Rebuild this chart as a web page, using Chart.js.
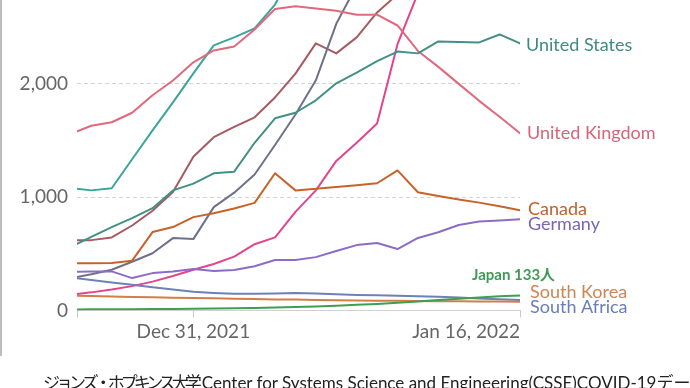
<!DOCTYPE html>
<html>
<head>
<meta charset="utf-8">
<script src="https://cdn.jsdelivr.net/npm/chart.js@4.4.1/dist/chart.umd.min.js"></script>
<style>
  html, body { margin: 0; padding: 0; background: #fff; }
  #wrap { position: relative; width: 690px; height: 388px; overflow: hidden; }
  #chart { position: absolute; left: 0; top: 0; }
  #edge { position: absolute; left: 0; top: 0; width: 2px; height: 356px; background: #bdbdbd; }
  #source {
    position: absolute; left: 43px; top: 373px; line-height: 20px;
    font-family: Lato, "Noto Sans CJK JP", sans-serif; font-size: 17px;
    color: #222; white-space: nowrap;
  }
  #source .ja { letter-spacing: -4px; margin-right: 4px; }
</style>
</head>
<body>
<div id="wrap">
  <canvas id="chart" width="690" height="388"></canvas>
  <div id="edge"></div>
  <div id="source"><span class="ja">ジョンズ・ホプキンス大学</span>Center for Systems Science and Engineering(CSSE)COVID-19データ</div>
</div>
<script>
(function () {
  "use strict";

  // daily new cases per million, 7-day average
  const dates = [
    "2021-12-25", "2021-12-26", "2021-12-27", "2021-12-28", "2021-12-29", "2021-12-30", "2021-12-31",
    "2022-01-01", "2022-01-02", "2022-01-03", "2022-01-04", "2022-01-05", "2022-01-06", "2022-01-07",
    "2022-01-08", "2022-01-09", "2022-01-10", "2022-01-11", "2022-01-12", "2022-01-13", "2022-01-14",
    "2022-01-15", "2022-01-16"
  ];
  const unitedStates = [560, 650, 736, 815, 903, 1060, 1120, 1211, 1225, 1480, 1696, 1745, 1855, 2005, 2100, 2200, 2285, 2269, 2374, 2370, 2366, 2436, 2357];
  const unitedKingdom = [1560, 1630, 1661, 1745, 1900, 2030, 2190, 2295, 2330, 2480, 2660, 2685, 2665, 2645, 2610, 2610, 2515, 2290, 2150, 2000, 1850, 1710, 1564];
  const france = [1080, 1060, 1079, 1335, 1590, 1837, 2092, 2339, 2410, 2489, 2700, 3050, 3300, 3550, 3800, 4050, 4300, 4450, 4600, 4700, 4800, 4850, 4900];
  const italy = [620, 621, 645, 750, 880, 1045, 1356, 1529, 1620, 1705, 1880, 2090, 2357, 2269, 2410, 2630, 2790, 2950, 3100, 3200, 3300, 3350, 3400];
  const australia = [285, 320, 360, 430, 505, 639, 630, 912, 1040, 1200, 1460, 1730, 2031, 2530, 2870, 3150, 3400, 3550, 3650, 3700, 3700, 3650, 3600];
  const israel = [140, 160, 185, 215, 255, 305, 360, 410, 475, 585, 645, 870, 1060, 1320, 1480, 1650, 2350, 2800, 3100, 3400, 3700, 3900, 4100];
  const canada = [415, 418, 420, 440, 692, 736, 824, 859, 900, 950, 1211, 1060, 1075, 1090, 1105, 1123, 1236, 1044, 1010, 980, 952, 920, 885];
  const germany = [340, 345, 345, 286, 330, 345, 366, 348, 357, 390, 445, 445, 471, 525, 577, 595, 542, 640, 690, 755, 785, 795, 806];
  const southAfrica = [290, 270, 248, 228, 205, 185, 165, 155, 148, 147, 150, 155, 150, 143, 137, 134, 130, 126, 121, 115, 106, 99, 93];
  const southKorea = [130, 127, 123, 120, 117, 113, 110, 107, 104, 101, 98, 96, 93, 91, 89, 87, 85, 83, 82, 81, 80, 79, 78];
  const japan = [9, 10, 11, 12, 13, 14, 16, 18, 20, 23, 27, 31, 36, 42, 50, 58, 68, 80, 92, 104, 115, 125, 133];

  const xTickDates = ["2021-12-31", "2022-01-16"];
  const yTicks = [0, 1000, 2000];
  const yMax = 2740;
  const xStart = 0.3; // visible window starts a bit after the first day

  const MONTHS = ["Jan", "Feb", "Mar", "Apr", "May", "Jun", "Jul", "Aug", "Sep", "Oct", "Nov", "Dec"];
  const FONT = "Lato, 'Noto Sans CJK JP', sans-serif";

  function fmtDate(s) {
    const p = s.split("-");
    return MONTHS[+p[1] - 1] + " " + (+p[2]) + ", " + p[0];
  }

  function points(vals) {
    return vals.map(function (v, i) {
      return { x: i, y: v };
    });
  }

  function noPad(s) {
    s.paddingTop = 0;
    s.paddingBottom = 0;
    s.paddingLeft = 0;
    s.paddingRight = 0;
  }

  const series = [
    { name: "Japan", data: japan, color: "#3e9e52" },
    { name: "South Korea", data: southKorea, color: "#d27e45" },
    { name: "South Africa", data: southAfrica, color: "#6d80b8" },
    { name: "Germany", data: germany, color: "#8c6cc4" },
    { name: "Canada", data: canada, color: "#c8622a" },
    { name: "United States", data: unitedStates, color: "#439084" },
    { name: "United Kingdom", data: unitedKingdom, color: "#e0697c" },
    { name: "Israel", data: israel, color: "#e2458d" },
    { name: "Australia", data: australia, color: "#6e7189" },
    { name: "Italy", data: italy, color: "#a65a63" },
    { name: "France", data: france, color: "#3aa59b" }
  ];

  // end-of-line labels
  const endLabels = {
    "United States": { text: "United States", color: "#3d8b83", dx: 6, dy: 2 },
    "United Kingdom": { text: "United Kingdom", color: "#d96479", dx: 7, dy: 0 },
    "Canada": { text: "Canada", color: "#c1602c", dx: 8, dy: -1 },
    "Germany": { text: "Germany", color: "#7c64b0", dx: 8, dy: 5 },
    "Japan": { text: "Japan 133人", color: "#3f9a56", dx: -48, dy: -20, small: true },
    "South Korea": { text: "South Korea", color: "#cf8552", dx: 10, dy: -9 },
    "South Africa": { text: "South Africa", color: "#6a7db8", dx: 10, dy: 7 }
  };

  const endLabelPlugin = {
    id: "endLabels",
    afterDatasetsDraw: function (chart) {
      const ctx = chart.ctx;
      const area = chart.chartArea;
      const ys = chart.scales.y;
      ctx.save();
      ctx.textBaseline = "middle";
      ctx.textAlign = "left";
      chart.data.datasets.forEach(function (ds) {
        const lab = endLabels[ds.label];
        if (!lab) return;
        const last = ds.data[ds.data.length - 1];
        ctx.font = lab.small ? "bold 15px " + FONT : "18px " + FONT;
        ctx.fillStyle = lab.color;
        ctx.fillText(lab.text, area.right + lab.dx, ys.getPixelForValue(last.y) + lab.dy);
      });
      ctx.restore();
    }
  };

  const datasets = series.map(function (s) {
    return {
      label: s.name,
      data: points(s.data),
      borderColor: s.color,
      backgroundColor: s.color,
      borderWidth: 2,
      pointRadius: 0,
      tension: 0,
      borderJoinStyle: "round",
      borderCapStyle: "round"
    };
  });

  new Chart(document.getElementById("chart"), {
    type: "line",
    data: { datasets: datasets },
    options: {
      responsive: false,
      animation: false,
      layout: { padding: { left: 0, right: 170, top: 0, bottom: 0 } },
      plugins: { legend: { display: false }, tooltip: { enabled: false } },
      scales: {
        x: {
          type: "linear",
          min: xStart,
          max: dates.length - 1,
          afterBuildTicks: function (s) {
            s.ticks = [xStart].concat(xTickDates.map(function (d) {
              return dates.indexOf(d);
            })).map(function (v) {
              return { value: v };
            });
          },
          afterFit: function (s) {
            s.height = 77.5;
            noPad(s);
          },
          grid: { drawOnChartArea: false, drawTicks: true, tickLength: 7, tickColor: "#c8c8c8" },
          border: { display: true, color: "#d0d0d0" },
          ticks: {
            align: "inner",
            autoSkip: false,
            maxRotation: 0,
            padding: 3,
            color: "#666",
            font: { family: FONT, size: 19 },
            callback: function (v) {
              return Number.isInteger(v) && dates[v] ? fmtDate(dates[v]) : "";
            }
          }
        },
        y: {
          min: 0,
          max: yMax,
          afterBuildTicks: function (s) {
            s.ticks = yTicks.map(function (v) {
              return { value: v };
            });
          },
          afterFit: function (s) {
            s.width = 77;
            noPad(s);
          },
          grid: {
            drawTicks: false,
            color: function (c) {
              return c.tick && c.tick.value === 0 ? "rgba(0,0,0,0)" : "#d4d4d4";
            }
          },
          border: { display: false, dash: [4, 3] },
          ticks: {
            padding: 9,
            color: "#666",
            font: { family: FONT, size: 19 }
          }
        }
      }
    },
    plugins: [endLabelPlugin]
  });
})();
</script>
</body>
</html>
